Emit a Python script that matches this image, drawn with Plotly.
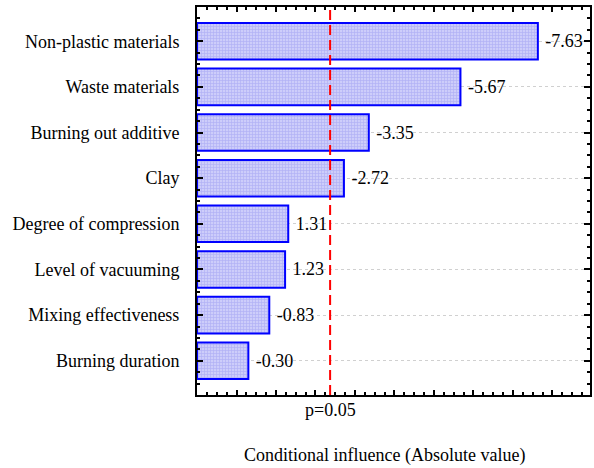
import plotly.graph_objects as go

factors = ["Non-plastic materials", "Waste materials", "Burning out additive", "Clay",
           "Degree of compression", "Level of vacuuming", "Mixing effectiveness", "Burning duration"]
effects = [-7.63, -5.67, -3.35, -2.72, 1.31, 1.23, -0.83, -0.30]
p_threshold = 2.37
p_label = "p=0.05"
x_title = "Conditional influence (Absolute value)"
x_range = [-1, 8.95]

positions = list(range(len(factors)))
abs_vals = [abs(v) for v in effects]
texts = [f"{v:.2f}" for v in effects]
base = x_range[0]

FONT = "Liberation Serif, Times New Roman, serif"
FS = 18

fig = go.Figure()
fig.add_trace(go.Bar(
    x=[v - base for v in abs_vals], base=base, y=positions, orientation="h", width=0.8,
    marker=dict(color="#c4c4f6", line=dict(color="#0000ff", width=2),
                pattern=dict(shape="+", fgcolor="#9494ee", bgcolor="#cdcdfa", size=3, solidity=0.4)),
    text=texts, texttemplate=" %{text}", textposition="outside", cliponaxis=False,
    textfont=dict(family=FONT, size=FS, color="black"),
    showlegend=False, hoverinfo="skip",
))

fig.add_shape(type="line", xref="x", yref="paper", x0=p_threshold, x1=p_threshold, y0=0, y1=1,
              line=dict(color="#ff0000", width=2, dash="10px,5px"))

fig.add_annotation(x=p_threshold, xref="x", y=0, yref="paper", yanchor="top", yshift=-3,
                   text=p_label, showarrow=False, font=dict(family=FONT, size=FS, color="black"))
fig.add_annotation(x=0.478, xref="paper", y=0, yref="paper", yanchor="middle", yshift=-60,
                   text=x_title, showarrow=False, font=dict(family=FONT, size=FS, color="black"))

fig.update_xaxes(range=x_range, showline=True, linecolor="black", linewidth=2, mirror="allticks",
                 ticks="inside", ticklen=5, tickcolor="black", tickwidth=1.5, tickmode="linear", tick0=0, dtick=1,
                 minor=dict(ticks="inside", ticklen=3, tickcolor="black", dtick=0.25, tick0=0, showgrid=False),
                 showticklabels=False, showgrid=False, zeroline=False)
fig.update_yaxes(range=[7.75, -0.75], showline=True, linecolor="black", linewidth=2, mirror="allticks",
                 ticks="inside", ticklen=6, tickcolor="black", tickwidth=2,
                 tickmode="array", tickvals=positions, ticktext=factors,
                 minor=dict(ticks="inside", ticklen=3, tickcolor="black", dtick=0.25, tick0=0, showgrid=False),
                 showgrid=True, gridcolor="#d0d0d0", griddash="dot", gridwidth=1,
                 zeroline=False, ticklabelstandoff=12,
                 tickfont=dict(family=FONT, size=FS, color="black"))

fig.update_layout(width=594, height=468, margin=dict(l=197, r=2, t=7, b=73),
                  plot_bgcolor="white", paper_bgcolor="white", bargap=0.2)

fig.write_html("out.html", post_script="document.body.style.margin='0px';",
               config={"displayModeBar": False})
